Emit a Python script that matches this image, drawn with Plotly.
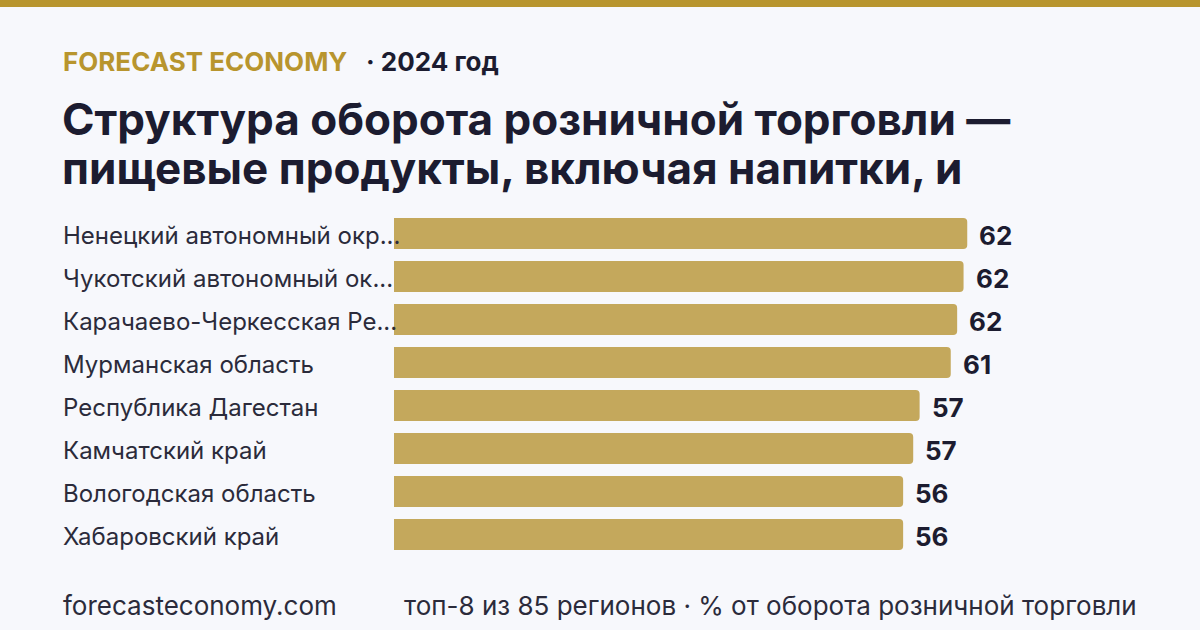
import plotly.graph_objects as go

regions = [
    "Ненецкий автономный окр...",
    "Чукотский автономный ок...",
    "Карачаево-Черкесская Ре...",
    "Мурманская область",
    "Республика Дагестан",
    "Камчатский край",
    "Вологодская область",
    "Хабаровский край",
]
values = [62.6, 62.2, 61.5, 60.8, 57.4, 56.7, 55.6, 55.6]
value_labels = ["62", "62", "62", "61", "57", "57", "56", "56"]

brand = "FORECAST ECONOMY"
year_text = "· 2024 год"
title_lines = ["Структура оборота розничной торговли —", "пищевые продукты, включая напитки, и"]
footer_left = "forecasteconomy.com"
footer_right = "топ-8 из 85 регионов · % от оборота розничной торговли"

W_FIG, H_FIG = 1200, 630
L, R, T, B = 394, 165, 212, 74
PW = W_FIG - L - R
PH = H_FIG - T - B

def px(x):
    return (x - L) / PW

def py(y):
    return (H_FIG - B - y) / PH

BG = "#f7f8fc"
GOLD = "#b8952e"
BAR = "#c4a85c"
DARK = "#1c1c30"
TEXT = "#2b2b3b"
FONT = "Inter"

fig = go.Figure()
fig.add_trace(go.Bar(
    x=values, y=regions, orientation="h",
    marker=dict(color=BAR, cornerradius=4, line=dict(width=0)),
    hoverinfo="skip",
))

annotations = []
for r, v, t in zip(regions, values, value_labels):
    annotations.append(dict(x=v, y=r, xref="x", yref="y", text=t, showarrow=False,
                            xanchor="left", yanchor="middle", xshift=10, yshift=-2,
                            font=dict(family=FONT, size=26, color=DARK, weight=700)))
    annotations.append(dict(x=px(61), y=r, xref="paper", yref="y", text=r, showarrow=False,
                            xanchor="left", yanchor="middle", yshift=-2,
                            font=dict(family=FONT, size=24, color=TEXT)))

annotations.append(dict(x=px(61), y=py(61), xref="paper", yref="paper", text=f"<b>{brand}</b>",
                        showarrow=False, xanchor="left", yanchor="middle",
                        font=dict(family=FONT, size=26, color=GOLD)))
annotations.append(dict(x=px(364), y=py(61), xref="paper", yref="paper", text=f"<b>{year_text}</b>",
                        showarrow=False, xanchor="left", yanchor="middle",
                        font=dict(family=FONT, size=26, color=DARK)))
for i, line in enumerate(title_lines):
    annotations.append(dict(x=px(60), y=py(119 + 49 * i), xref="paper", yref="paper", text=f"<b>{line}</b>",
                            showarrow=False, xanchor="left", yanchor="middle",
                            font=dict(family=FONT, size=44, color=DARK)))
annotations.append(dict(x=px(61), y=py(605), xref="paper", yref="paper", text=footer_left,
                        showarrow=False, xanchor="left", yanchor="middle",
                        font=dict(family=FONT, size=26, color=TEXT)))
annotations.append(dict(x=px(1139), y=py(605), xref="paper", yref="paper", text=footer_right,
                        showarrow=False, xanchor="right", yanchor="middle",
                        font=dict(family=FONT, size=26, color=TEXT)))

fig.update_layout(
    width=W_FIG, height=H_FIG,
    margin=dict(l=L, r=R, t=T, b=B),
    paper_bgcolor=BG, plot_bgcolor=BG,
    showlegend=False,
    bargap=0.28,
    xaxis=dict(range=[0, 70], visible=False, fixedrange=True),
    yaxis=dict(autorange="reversed", visible=False, fixedrange=True),
    annotations=annotations,
    shapes=[dict(type="rect", xref="paper", yref="paper", x0=px(0), x1=px(1200),
                 y0=py(7), y1=py(0), fillcolor=GOLD, line=dict(width=0), layer="above")],
)

fig.write_html("out.html")
